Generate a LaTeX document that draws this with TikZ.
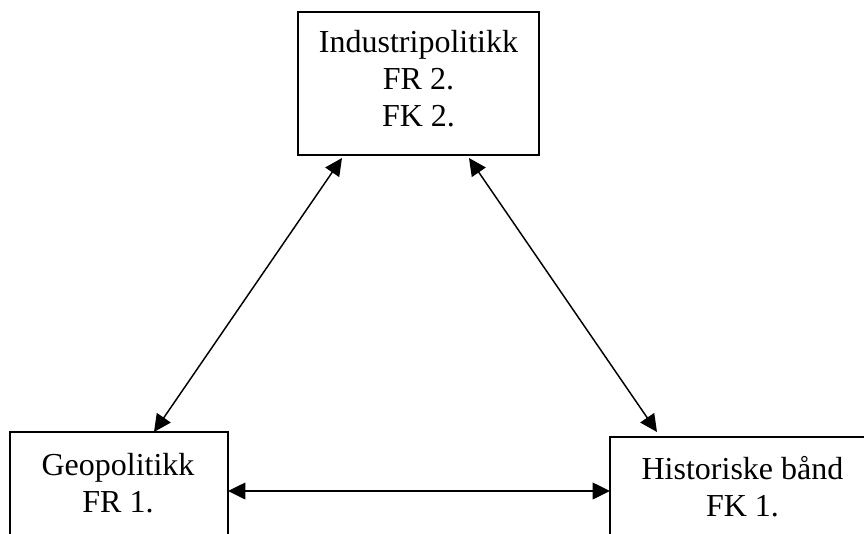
\documentclass[tikz,border=0pt]{standalone}
\usepackage{fontspec}
\setmainfont{Liberation Serif}
\usetikzlibrary{arrows.meta}
\begin{document}
\begin{tikzpicture}[x=0.75pt,y=-0.75pt,
  boxnode/.style={draw, line width=1.5pt, rectangle, inner sep=0pt},
  openbox/.style={line width=1.5pt, inner sep=0pt},
  txtnode/.style={inner sep=0pt, align=center, font=\fontsize{24pt}{27.6pt}\selectfont},
  link/.style={line width=1.1pt, {Triangle[length=13pt,width=12.5pt]}-{Triangle[length=13pt,width=12.5pt]}}]
\useasboundingbox (0,0) rectangle (864,533);
\fill[white] (0,0) rectangle (864,533);
% boxes
\node[boxnode, minimum width=180.75pt, minimum height=107.25pt] (top) at (418.5,83.5) {};
\node[openbox, minimum width=162pt, minimum height=75pt] (left) at (119,483) {};
\node[openbox, minimum width=200pt, minimum height=71.25pt] (right) at (744.33,485.5) {};
\draw[openbox] (left.south west) -- (left.north west) -- (left.north east) -- (left.south east);
\draw[openbox] (right.south west) -- (right.north west) -- (right.north east);
% texts
\node[txtnode] (toptxt) at (418.5,78.5) {Industripolitikk\\FR 2.\\FK 2.};
\node[txtnode] (lefttxt) at (118,483.5) {Geopolitikk\\FR 1.};
\node[txtnode] (righttxt) at (742.5,486.5) {Historiske bånd\\FK 1.};
% connectors
\draw[link] ([xshift=33.75pt,yshift=-1.5pt]top.south west) -- ([xshift=108pt]left.north west);
\draw[link] ([xshift=-53.25pt,yshift=-1.5pt]top.south east) -- ([xshift=35.25pt,yshift=3.75pt]right.north west);
\draw[link] ([yshift=-44.25pt]left.north east) -- ([yshift=-40.5pt]right.north west);
\end{tikzpicture}
\end{document}
